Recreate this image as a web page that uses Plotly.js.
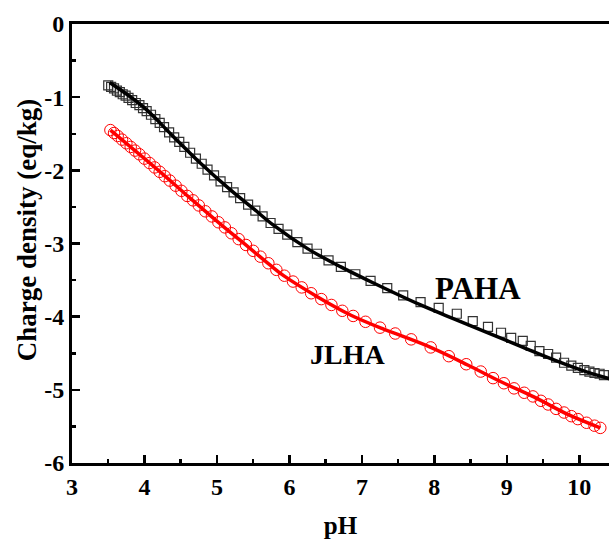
<!DOCTYPE html>
<html>
<head>
<meta charset="utf-8">
<script src="https://cdn.plot.ly/plotly-3.0.1.min.js"></script>
<style>html,body{margin:0;padding:0;background:#fff;}#chart{width:609px;height:543px;}</style>
</head>
<body>
<div id="chart"></div>
<script>
// PAHA measured points (squares)
const pahaPH = [3.50,3.54,3.58,3.62,3.66,3.70,3.74,3.78,3.83,3.88,3.93,3.98,4.03,4.09,4.15,4.21,4.27,4.34,4.41,4.48,4.55,4.63,4.71,4.79,4.87,4.96,5.05,5.14,5.23,5.32,5.43,5.53,5.63,5.74,5.85,5.97,6.11,6.25,6.38,6.54,6.71,6.91,7.12,7.35,7.57,7.81,8.06,8.31,8.53,8.74,8.92,9.06,9.22,9.33,9.45,9.57,9.68,9.79,9.89,9.98,10.07,10.14,10.21,10.28,10.34];
const pahaQ = [-0.84,-0.86,-0.88,-0.91,-0.93,-0.96,-0.98,-1.01,-1.04,-1.08,-1.11,-1.15,-1.19,-1.24,-1.30,-1.35,-1.41,-1.48,-1.55,-1.61,-1.68,-1.76,-1.84,-1.91,-1.99,-2.07,-2.15,-2.23,-2.30,-2.38,-2.47,-2.55,-2.63,-2.72,-2.80,-2.88,-2.98,-3.07,-3.14,-3.23,-3.32,-3.42,-3.51,-3.61,-3.71,-3.80,-3.88,-3.96,-4.06,-4.14,-4.22,-4.29,-4.33,-4.40,-4.47,-4.51,-4.56,-4.63,-4.67,-4.70,-4.73,-4.75,-4.77,-4.78,-4.80];
// PAHA fitted curve
const pahaFitPH = [3.52,3.98,4.40,4.77,5.19,5.50,5.78,6.25,6.71,7.16,7.81,8.27,8.74,9.20,9.65,10.03,10.42];
const pahaFitQ = [-0.80,-1.13,-1.54,-1.90,-2.27,-2.52,-2.75,-3.07,-3.32,-3.54,-3.84,-4.03,-4.22,-4.41,-4.59,-4.73,-4.85];
// JLHA measured points (circles)
const jlhaPH = [3.53,3.58,3.63,3.69,3.75,3.81,3.87,3.93,4.00,4.07,4.14,4.21,4.28,4.35,4.43,4.51,4.59,4.67,4.75,4.84,4.93,5.02,5.11,5.20,5.30,5.40,5.50,5.60,5.71,5.82,5.93,6.05,6.17,6.30,6.44,6.58,6.73,6.88,7.05,7.25,7.46,7.68,7.95,8.20,8.44,8.64,8.81,8.96,9.10,9.24,9.36,9.47,9.57,9.68,9.79,9.89,9.98,10.10,10.21,10.29];
const jlhaQ = [-1.45,-1.49,-1.53,-1.58,-1.63,-1.68,-1.73,-1.78,-1.84,-1.90,-1.96,-2.02,-2.08,-2.14,-2.21,-2.28,-2.35,-2.41,-2.48,-2.56,-2.63,-2.71,-2.78,-2.86,-2.94,-3.02,-3.10,-3.18,-3.27,-3.36,-3.44,-3.52,-3.60,-3.68,-3.76,-3.84,-3.92,-3.99,-4.07,-4.15,-4.23,-4.31,-4.42,-4.54,-4.65,-4.75,-4.84,-4.91,-4.98,-5.04,-5.09,-5.15,-5.20,-5.26,-5.31,-5.36,-5.40,-5.45,-5.49,-5.52];
// JLHA fitted curve
const jlhaFitPH = [3.53,4.18,4.63,5.09,5.46,5.74,5.92,6.39,6.85,7.30,7.54,7.95,8.46,8.92,9.38,9.85,10.29];
const jlhaFitQ = [-1.45,-1.99,-2.38,-2.77,-3.07,-3.30,-3.44,-3.73,-3.98,-4.17,-4.26,-4.42,-4.66,-4.89,-5.10,-5.34,-5.52];
const xTicks = [3,4,5,6,7,8,9,10];
const yTicks = [0,-1,-2,-3,-4,-5,-6];

const font = 'Liberation Serif';
const traces = [
  {x: pahaPH, y: pahaQ, mode: 'markers', type: 'scatter', name: 'PAHA',
   marker: {symbol: 'square-open', size: 9, color: '#333', line: {width: 1.2, color: '#333'}}},
  {x: jlhaPH, y: jlhaQ, mode: 'markers', type: 'scatter', name: 'JLHA',
   marker: {symbol: 'circle-open', size: 11.5, color: '#ff0000', line: {width: 1, color: '#ff0000'}}},
  {x: pahaFitPH, y: pahaFitQ, mode: 'lines', type: 'scatter', name: 'PAHA fit',
   line: {color: '#000', width: 3.5, shape: 'spline'}},
  {x: jlhaFitPH, y: jlhaFitQ, mode: 'lines', type: 'scatter', name: 'JLHA fit',
   line: {color: '#ff0000', width: 3.5, shape: 'spline'}}
];
const layout = {
  width: 609, height: 543,
  margin: {l: 72, r: 0, t: 24, b: 80},
  paper_bgcolor: '#fff', plot_bgcolor: '#fff',
  showlegend: false,
  font: {family: font, color: '#000'},
  xaxis: {
    range: [3, 10.41], tickvals: xTicks, ticktext: xTicks.map(v => '<b>' + v + '</b>'),
    ticks: 'inside', ticklen: 8, tickwidth: 2.5, tickcolor: '#000',
    minor: {dtick: 0.5, tick0: 3, ticks: 'inside', ticklen: 4, tickwidth: 2.5, tickcolor: '#000'},
    showline: true, linewidth: 3, linecolor: '#000', mirror: true,
    showgrid: false, zeroline: false,
    tickfont: {family: font, size: 24, color: '#000'},
    title: {text: '<b>pH</b>', font: {family: font, size: 25, color: '#000'}, standoff: 18}
  },
  yaxis: {
    range: [-6, 0], tickvals: yTicks, ticktext: yTicks.map(v => '<b>' + v + '</b>'),
    ticks: 'inside', ticklen: 8, tickwidth: 2.5, tickcolor: '#000',
    minor: {dtick: 0.5, tick0: 0, ticks: 'inside', ticklen: 4, tickwidth: 2.5, tickcolor: '#000'},
    showline: true, linewidth: 3, linecolor: '#000', mirror: false,
    showgrid: false, zeroline: false,
    tickfont: {family: font, size: 24, color: '#000'},
    title: {text: ''}
  },
  annotations: [
    {x: 0, xref: 'paper', xanchor: 'center', xshift: -45, y: 0.53, yref: 'paper', yanchor: 'middle',
     textangle: -90, text: '<b>Charge density (eq/kg)</b>', showarrow: false,
     font: {family: font, size: 27, color: '#000'}},
    {x: 8.60, y: -3.62, xref: 'x', yref: 'y', text: '<b>PAHA</b>', showarrow: false,
     font: {family: font, size: 31, color: '#000'}},
    {x: 6.80, y: -4.52, xref: 'x', yref: 'y', text: '<b>JLHA</b>', showarrow: false,
     font: {family: font, size: 28, color: '#000'}}
  ]
};
Plotly.newPlot('chart', traces, layout, {displayModeBar: false, staticPlot: true});
</script>
</body>
</html>
